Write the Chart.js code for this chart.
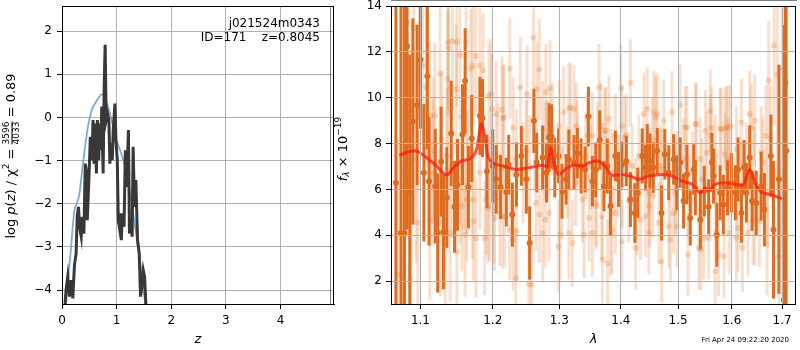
<!DOCTYPE html>
<html>
<head>
<meta charset="utf-8">
<script src="https://cdn.jsdelivr.net/npm/chart.js@4.4.1/dist/chart.umd.min.js"></script>
<style>
  body { margin: 0; background: #fff; }
  #wrap { position: relative; width: 800px; height: 350px; }
  canvas { position: absolute; top: 0; }
  #pz { left: 0; }
  #sp { left: 330px; }
</style>
</head>
<body>
<div id="wrap">
  <canvas id="pz" width="336" height="350"></canvas>
  <canvas id="sp" width="470" height="350"></canvas>
</div>
<script>
// ---- left panel: log p(z) ----
let zBlack = [0.035,0.074,0.105,0.136,0.167,0.198,0.228,0.259,0.278,0.302,0.321,0.352,0.370,0.401,0.426,0.444,0.463,0.494,0.519,0.549,0.568,0.586,0.611,0.630,0.648,0.673,0.691,0.710,0.728,0.753,0.772,0.790,0.809,0.833,0.858,0.877,0.895,0.920,0.938,0.969,0.988,1.012,1.031,1.049,1.068,1.086,1.105,1.136,1.160,1.185,1.216,1.235,1.259,1.284,1.302,1.327,1.352,1.383,1.414,1.438,1.463,1.488,1.512,1.550];
let logPz = [-4.7,-4.00,-3.69,-4.15,-3.77,-4.19,-3.42,-3.15,-2.30,-2.07,-2.53,-2.76,-2.30,-2.69,-1.07,-1.22,-2.38,-1.37,-0.45,-0.99,-0.06,-1.07,-0.14,-1.30,-0.06,-0.99,-0.14,-0.76,0.25,-1.30,0.71,1.68,-0.06,0.09,-0.06,-1.07,-0.60,-0.99,-0.29,0.32,-0.53,-0.99,-2.38,-2.53,-2.22,-2.84,-2.22,-2.53,-0.76,-1.61,-0.29,-2.69,-2.38,-2.76,-0.68,-2.07,-1.45,-2.84,-3.15,-4.15,-3.92,-3.54,-3.69,-4.7];
let zSmooth = [0.05,0.074,0.123,0.167,0.228,0.309,0.383,0.475,0.556,0.642,0.735,0.815,0.907,1.0,1.123,1.235,1.321,1.401,1.463,1.56];
let logPzSmooth = [-4.7,-4.32,-3.6,-3.0,-2.15,-1.84,-1.07,-0.22,0.21,0.40,0.54,0.36,-0.06,-0.53,-0.99,-1.68,-2.38,-3.07,-3.69,-4.7];
let zTicks = [0, 1, 2, 3, 4];
let pzTicks = [-4, -3, -2, -1, 0, 1, 2];

// ---- right panel: spectrum ----
let darkLam = [1.0680,1.0745,1.0790,1.0824,1.0860,1.0900,1.0956,1.1000,1.1046,1.1092,
  1.1115,1.1198,1.1231,1.1277,1.1309,1.1355,1.1415,1.1461,1.1502,1.1572,
  1.1608,1.1654,1.1700,1.1816,1.1853,1.1917,1.2000,1.2050,1.2114,1.2198,
  1.2233,1.2287,1.2347,1.2421,1.2495,1.2545,1.2609,1.2653,1.2743,1.2802,
  1.2842,1.2881,1.2931,1.2990,1.3043,1.3108,1.3152,1.3233,1.3287,1.3346,
  1.3411,1.3465,1.3530,1.3584,1.3649,1.3720,1.3774,1.3828,1.3909,1.3963,
  1.4017,1.4093,1.4163,1.4238,1.4290,1.4366,1.4424,1.4453,1.4500,1.4558,
  1.4628,1.4704,1.4762,1.4832,1.4919,1.4977,1.5037,1.5099,1.5160,1.5222,
  1.5284,1.5315,1.5407,1.5481,1.5562,1.5623,1.5654,1.5716,1.5778,1.5839,
  1.5920,1.5994,1.6071,1.6123,1.6188,1.6240,1.6285,1.6350,1.6396,1.6480,
  1.6577,1.6642,1.6772,1.6824,1.6935,1.7033,1.7066,1.7083];
let darkFlux = [6.29,4.10,4.10,12.24,5.88,8.96,9.68,11.65,6.73,10.94,
  6.35,6.14,4.10,7.21,4.14,5.65,8.44,5.24,6.20,8.39,
  10.73,6.10,8.22,9.21,9.11,6.79,7.02,6.44,6.10,5.88,
  7.08,4.90,6.65,7.46,6.44,3.66,8.99,7.17,7.39,6.73,
  8.26,8.31,6.95,7.46,5.92,6.44,7.31,7.17,7.58,7.02,
  6.87,9.18,6.36,6.85,8.15,6.14,7.02,5.27,7.46,6.44,
  7.09,7.24,5.56,4.97,5.85,7.46,6.95,7.75,7.24,6.95,
  7.68,4.97,7.53,6.73,7.31,6.29,7.17,5.49,6.65,4.75,
  6.87,6.07,4.68,5.92,5.24,7.17,6.58,4.02,5.85,5.34,
  6.07,6.29,5.85,6.87,4.97,6.95,5.85,7.39,5.49,5.41,
  6.14,5.12,7.46,4.24,6.44,1.17,10.65,7.68];
let darkErr = [12,12,12,8,6,4.5,3.5,3.0,3.0,3.2,
  2.8,2.5,2.6,2.4,2.5,2.2,2.3,2.0,2.0,2.2,
  2.3,1.8,1.9,1.7,1.7,1.6,1.6,1.5,1.4,1.5,
  1.3,1.4,1.4,1.3,1.5,1.6,1.4,1.3,1.4,1.3,
  1.5,1.4,1.3,1.2,1.2,1.1,1.3,1.2,1.1,1.2,
  1.0,1.3,1.1,1.2,1.3,1.1,1.2,1.3,1.1,1.2,
  1.0,1.1,1.2,1.3,1.1,1.2,1.0,1.1,1.2,1.1,
  1.0,1.2,1.1,1.2,1.1,1.2,1.1,1.2,1.3,1.2,
  1.1,1.2,1.3,1.1,1.2,1.3,1.2,1.4,1.2,1.3,
  1.2,1.3,1.2,1.4,1.3,1.2,1.3,1.4,1.3,1.4,
  1.5,1.6,1.8,3.0,5,12,12,12];

let lightLam = [1.0824,1.0912,1.0987,1.0700,1.0767,1.1032,1.1078,1.1124,1.1263,1.1373,
  1.1433,1.1493,1.1539,1.1622,1.1714,1.1756,1.1816,1.1862,1.1945,1.1991,
  1.2050,1.2149,1.0965,1.1124,1.1263,1.1332,1.1401,1.1493,1.1562,1.1631,
  1.1724,1.1761,1.1908,1.1954,1.2015,1.2099,1.2173,1.2248,1.2337,1.2535,
  1.2574,1.2604,1.2693,1.2792,1.2856,1.2891,1.3000,1.3070,1.3152,1.3233,
  1.3287,1.3449,1.3611,1.3666,1.3747,1.3801,1.3909,1.4017,1.4093,1.4163,
  1.4395,1.4570,1.4890,1.5037,1.5130,1.5315,1.5500,1.5593,1.5796,1.5870,
  1.5932,1.6188,1.6350,1.6448,1.6675,1.6727,1.6837,1.6902,1.7000,1.2743,
  1.2842,1.2990,1.3152,1.3395,1.3530,1.3693,1.3779,1.3855,1.4017,1.4250,
  1.4337,1.4482,1.4704,1.4861,1.4977,1.5179,1.5377,1.5469,1.5685,1.5852,
  1.6090,1.6318,1.6448,1.6694,1.6935,1.7033,1.2347,1.2495,1.2619,1.2792,
  1.3260,1.3368,1.3584,1.3855,1.4017,1.4250,1.4482,1.4715,1.4948,1.5191,
  1.5438,1.5685,1.5932,1.6188,1.6448,1.6707,1.1585,1.1355,1.1170,1.0943,
  1.2653,1.2505,1.2406,1.3179,1.3271,1.3530,1.3638,1.3736,1.4000,1.4064,1.4453,1.4541,1.4599,
  1.2643,1.2693,1.2782,1.3016,1.3206,1.3476,1.3595,1.3682,1.3828,1.3909,1.4134,1.4279,1.4424,1.4494,1.4552,
  1.2446,1.2545,1.2743,1.2817,1.3043,1.3125,1.3422,1.3503,1.3693,1.3801,1.3963,1.4192,1.4308,1.4482,
  1.4628,1.4744,1.5160,1.5333,1.5593,1.5623,1.5778,1.5901,1.5975,1.6383,1.6577,
  1.4657,1.4832,1.4919,1.5419,1.5562,1.5747,1.5950,1.6123,1.6207,1.6415,1.6545,
  1.4686,1.4977,1.5099,1.5253,1.5407,1.5531,1.5685,1.5870,1.6090,1.6285,1.6610,1.6772,
  1.1365,1.1378,1.1686,1.1484,1.1193,1.1977,1.2248,1.2297,1.2134,1.2164,
  1.1608,1.1885,1.1710,1.1931,1.2025,1.2139,1.2297,1.2347,1.0859,
  1.0789,1.0877,1.1170,1.1286,1.1424,1.1539,1.1640,1.1816,1.2075];
let lightFlux = [13.31,13.04,13.16,2.27,2.20,11.40,10.46,9.21,11.04,12.43,
  12.47,12.43,11.85,12.43,11.40,11.82,11.40,11.19,10.09,9.51,
  9.29,9.11,4.54,4.68,4.54,3.51,4.10,3.29,5.27,5.56,
  4.61,3.88,5.56,5.27,5.05,4.97,4.80,4.24,2.12,1.87,
  1.83,12.61,11.23,10.24,10.41,8.63,8.77,9.36,9.54,9.51,
  7.97,8.34,7.90,8.77,8.56,9.07,8.34,8.77,8.37,10.65,
  9.29,9.36,9.36,9.68,8.70,8.85,8.56,8.34,8.63,8.63,
  8.70,8.92,9.29,8.99,8.34,10.75,12.28,11.00,11.26,4.10,
  4.97,3.51,4.10,4.02,4.10,2.93,2.78,4.24,3.73,3.44,
  4.68,4.10,2.85,3.80,4.39,3.15,3.44,3.88,2.42,3.07,
  3.88,4.10,4.68,3.58,3.07,1.46,7.31,7.68,8.04,7.75,
  6.29,5.56,5.41,6.73,6.14,5.56,5.85,6.87,5.85,5.70,
  6.44,5.56,7.31,6.14,6.73,5.85,7.02,7.46,6.73,7.31,
  10.38,10.16,10.46,9.58,8.77,8.34,10.46,8.56,10.41,8.26,9.51,8.19,9.14,
  5.41,4.90,4.68,4.02,3.66,4.75,5.27,4.83,4.10,4.97,5.49,4.97,4.83,5.27,5.71,
  6.73,7.02,8.63,7.75,5.85,6.73,7.46,7.02,7.02,6.14,6.58,7.02,7.46,6.73,
  9.29,8.99,8.70,8.85,9.43,8.70,8.63,8.70,8.77,8.70,7.61,
  4.54,4.39,4.97,3.37,3.88,3.15,4.10,4.32,3.44,4.61,4.61,
  7.02,6.73,7.31,6.73,7.31,7.61,7.46,7.53,7.75,7.02,7.17,8.19,
  10.82,12.17,11.26,10.38,9.21,10.16,11.26,8.70,9.48,9.14,
  4.02,3.88,5.56,5.19,4.75,4.83,3.80,4.17,2.12,
  6.73,7.17,7.68,8.19,6.87,6.44,6.80,6.73,7.46];
let lightErr = [5,4.5,4,6,5,3.5,3.5,3.2,3,3,
  3,2.8,2.8,2.8,2.6,2.6,2.5,2.5,2.4,2.4,
  2.3,2.3,4,3.5,3.2,3,3,2.8,2.8,2.7,
  2.6,2.6,2.4,2.4,2.3,2.3,2.2,2.2,2.2,2.2,
  2.1,2.3,2.2,2.1,2.1,2.0,2.0,2.0,2.0,1.9,
  1.9,1.9,1.9,1.9,1.9,1.9,1.8,1.8,1.8,1.9,
  1.8,1.8,1.8,1.8,1.8,1.8,1.8,1.8,1.8,1.8,
  1.8,1.9,1.9,2.0,2.2,2.6,3.5,5,8,2.1,
  2.1,2.0,2.0,1.9,1.9,1.9,1.9,1.9,1.8,1.8,
  1.8,1.8,1.8,1.8,1.8,1.8,1.8,1.8,1.8,1.8,
  1.9,1.9,2.0,2.2,4,8,2.2,2.2,2.1,2.1,
  1.9,1.9,1.9,1.9,1.8,1.8,1.8,1.8,1.8,1.8,
  1.8,1.8,1.8,1.9,2.0,2.2,2.8,3.0,3.2,4.5,
  2.1,2.1,2.2,1.9,1.9,1.9,1.9,1.9,1.9,1.8,1.8,1.8,1.8,
  2.1,2.1,2.1,2.0,1.9,1.9,1.9,1.9,1.9,1.8,1.8,1.8,1.8,1.8,1.8,
  2.2,2.2,2.1,2.1,2.0,2.0,1.9,1.9,1.9,1.9,1.8,1.8,1.8,1.8,
  1.8,1.8,1.8,1.8,1.8,1.8,1.8,1.8,1.8,1.9,2.0,
  1.8,1.8,1.8,1.8,1.8,1.8,1.8,1.9,1.9,1.9,2.0,
  1.8,1.8,1.8,1.8,1.8,1.8,1.8,1.8,1.9,1.9,2.0,2.3,
  3.0,3.0,2.6,2.8,3.2,2.4,2.2,2.2,2.3,2.3,
  2.7,2.5,2.6,2.4,2.3,2.3,2.2,2.2,5,
  5,4.5,3.2,3.0,3.0,2.8,2.7,2.5,2.3];

let modelLam = [1.0723,1.0811,1.0921,1.0987,1.1078,1.1217,1.1355,1.1447,1.1562,1.1677,1.1770,1.1839,1.1871,1.1931,1.2000,1.2149,1.2347,1.2545,1.2743,1.2817,1.2866,1.2916,1.2990,1.3097,1.3233,1.3368,1.3476,1.3611,1.3747,1.3855,1.4017,1.4163,1.4308,1.4482,1.4715,1.4890,1.5068,1.5253,1.5407,1.5500,1.5562,1.5685,1.5870,1.6058,1.6220,1.6350,1.6480,1.6610,1.6772,1.6935,1.7033];
let modelFlux = [7.49,7.61,7.68,7.61,7.39,7.02,6.63,6.95,7.24,7.34,7.75,8.85,8.56,7.46,7.17,7.02,6.87,6.95,7.05,6.98,7.82,7.17,6.65,6.87,7.06,7.02,7.17,7.24,6.98,6.61,6.65,6.58,6.44,6.58,6.65,6.58,6.36,6.22,5.85,6.07,5.95,6.22,6.29,6.22,6.17,6.87,6.14,5.85,5.78,5.63,5.59];
let lamTicks = [1.1, 1.2, 1.3, 1.4, 1.5, 1.6, 1.7];
let fluxTicks = [2, 4, 6, 8, 10, 12, 14];

Chart.defaults.font.family = "'DejaVu Sans', sans-serif";
Chart.defaults.font.size = 12;
Chart.defaults.color = "#000";

let pts = (xs, ys) => xs.map((x, i) => ({ x: x, y: ys[i] }));
let minus = (v) => String(v).replace("-", "\u2212");

// box around the plot area
let frame = {
  id: "frame",
  afterDraw(chart) {
    let a = chart.chartArea;
    let ctx = chart.ctx;
    ctx.save();
    ctx.strokeStyle = "#000";
    ctx.lineWidth = 1;
    ctx.strokeRect(Math.round(a.left) + 0.5, Math.round(a.top) + 0.5,
      Math.round(a.right - a.left) - 1, Math.round(a.bottom - a.top));
    ctx.restore();
  },
};

// vertical error bars, drawn just before each dataset's points
let errorBars = {
  id: "errorBars",
  beforeDatasetDraw(chart, args) {
    let ds = chart.data.datasets[args.index];
    if (!ds.errs) return;
    let a = chart.chartArea;
    let ctx = chart.ctx;
    let xs = chart.scales.x, ys = chart.scales.y;
    ctx.save();
    ctx.beginPath();
    ctx.rect(a.left, a.top, a.right - a.left, a.bottom - a.top);
    ctx.clip();
    ctx.strokeStyle = ds.barColor;
    ctx.lineWidth = 3;
    ds.data.forEach((p, i) => {
      let px = xs.getPixelForValue(p.x);
      ctx.beginPath();
      ctx.moveTo(px, ys.getPixelForValue(p.y - ds.errs[i]));
      ctx.lineTo(px, ys.getPixelForValue(p.y + ds.errs[i]));
      ctx.stroke();
    });
    ctx.restore();
  },
};

// draws a list of [text, font, dy] pieces along a rotated line, centred on (cx, cy)
function rotatedText(ctx, cx, cy, pieces) {
  ctx.save();
  ctx.translate(cx, cy);
  ctx.rotate(-Math.PI / 2);
  ctx.textBaseline = "middle";
  ctx.textAlign = "left";
  ctx.fillStyle = "#000";
  let total = 0;
  pieces.forEach((p) => { ctx.font = p[1]; total += ctx.measureText(p[0]).width; });
  let x = -total / 2;
  pieces.forEach((p) => {
    ctx.font = p[1];
    if (p[3]) {
      // stacked fraction
      let w = Math.max(ctx.measureText(p[0]).width, ctx.measureText(p[3]).width);
      ctx.fillText(p[0], x, -5);
      ctx.fillText(p[3], x, 5);
      ctx.fillRect(x, -0.5, w, 1);
      x += w;
    } else {
      ctx.fillText(p[0], x, p[2] || 0);
      x += ctx.measureText(p[0]).width;
    }
  });
  ctx.restore();
}

let pzLabels = {
  id: "pzLabels",
  afterDraw(chart) {
    let ctx = chart.ctx;
    ctx.save();
    ctx.fillStyle = "#000";
    ctx.font = "12px 'DejaVu Sans'";
    ctx.textAlign = "right";
    ctx.textBaseline = "middle";
    ctx.fillText("j021524m0343", 320, 24);
    ctx.fillText("ID=171    z=0.8045", 320, 38);
    ctx.restore();
    rotatedText(ctx, 12, 156, [
      ["log ", "13px 'DejaVu Sans'"],
      ["p", "italic 13px 'DejaVu Sans'"],
      ["(", "13px 'DejaVu Sans'"],
      ["z", "italic 13px 'DejaVu Sans'"],
      [") / \u03C7", "13px 'DejaVu Sans'"],
      ["2", "9px 'DejaVu Sans'", -5],
      [" = ", "13px 'DejaVu Sans'"],
      ["3596", "9px 'DejaVu Sans'", 0, "4033"],
      [" = 0.89", "13px 'DejaVu Sans'"],
    ]);
  },
};

let spLabels = {
  id: "spLabels",
  afterDraw(chart) {
    let ctx = chart.ctx;
    rotatedText(ctx, 14, 149, [
      ["f", "italic 13px 'DejaVu Sans'"],
      ["\u03BB", "italic 9px 'DejaVu Sans'", 3],
      [" \u00D7 10", "13px 'DejaVu Sans'"],
      ["\u221219", "9px 'DejaVu Sans'", -5],
    ]);
    ctx.save();
    ctx.fillStyle = "#000";
    ctx.font = "7px 'DejaVu Sans'";
    ctx.textAlign = "right";
    ctx.textBaseline = "middle";
    ctx.fillText("Fri Apr 24 09:22:20 2020", 459, 340);
    ctx.restore();
  },
};

let axisGrid = { color: "#b0b0b0", lineWidth: 1, tickColor: "#000", tickLength: 5 };
// keep Chart.js from reserving room for half tick labels at the plot edges
let noPadV = (w) => (s) => { s.width = w; s.paddingTop = 0; s.paddingBottom = 0; };
let noPadH = (h) => (s) => { s.height = h; s.paddingLeft = 0; s.paddingRight = 0; };

new Chart(document.getElementById("pz"), {
  type: "scatter",
  data: {
    datasets: [
      {
        data: pts(zBlack, logPz),
        showLine: true,
        borderColor: "#383838",
        borderWidth: 3,
        pointRadius: 0,
      },
      {
        data: pts(zSmooth, logPzSmooth),
        showLine: true,
        borderColor: "rgba(110,165,205,0.9)",
        borderWidth: 1.8,
        pointRadius: 0,
        tension: 0.3,
      },
    ],
  },
  options: {
    responsive: false,
    animation: false,
    layout: { padding: { top: 6, right: 2, left: 0, bottom: 0 } },
    plugins: { legend: { display: false }, tooltip: { enabled: false } },
    scales: {
      x: {
        type: "linear",
        min: 0,
        max: 4.98,
        afterBuildTicks: (s) => { s.ticks = zTicks.map((v) => ({ value: v })); },
        afterFit: noPadH(46),
        grid: axisGrid,
        border: { color: "#000" },
        ticks: { padding: 5, maxRotation: 0, callback: (v) => minus(v) },
        title: { display: true, text: "z", font: { style: "italic", size: 13 }, padding: { top: 0, bottom: 3 } },
      },
      y: {
        min: -4.32,
        max: 2.58,
        afterBuildTicks: (s) => { s.ticks = pzTicks.map((v) => ({ value: v })); },
        afterFit: noPadV(62),
        grid: axisGrid,
        border: { color: "#000" },
        ticks: { padding: 5, callback: (v) => minus(v) },
      },
    },
  },
  plugins: [frame, pzLabels],
});

new Chart(document.getElementById("sp"), {
  type: "scatter",
  data: {
    datasets: [
      {
        data: pts(modelLam, modelFlux),
        showLine: true,
        borderColor: "rgba(255,25,10,0.75)",
        borderWidth: 3,
        pointRadius: 0,
        cubicInterpolationMode: "monotone",
      },
      {
        data: pts(darkLam, darkFlux),
        errs: darkErr,
        barColor: "rgb(222,108,32)",
        backgroundColor: "rgb(222,108,32)",
        borderWidth: 0,
        pointRadius: 3,
      },
      {
        data: pts(lightLam, lightFlux),
        errs: lightErr,
        barColor: "rgba(232,130,60,0.25)",
        backgroundColor: "rgba(232,130,60,0.3)",
        borderWidth: 0,
        pointRadius: 3,
      },
    ],
  },
  options: {
    responsive: false,
    animation: false,
    layout: { padding: { top: 6, right: 2, left: 0, bottom: 0 } },
    plugins: { legend: { display: false }, tooltip: { enabled: false } },
    scales: {
      x: {
        type: "logarithmic",
        min: 1.0617,
        max: 1.7287,
        afterBuildTicks: (s) => { s.ticks = lamTicks.map((v) => ({ value: v })); },
        afterFit: noPadH(46),
        grid: Object.assign({ z: 1 }, axisGrid),
        border: { color: "#000" },
        ticks: { padding: 5, maxRotation: 0, autoSkip: false, callback: (v) => Number(v).toFixed(1) },
        title: { display: true, text: "\u03BB", font: { style: "italic", size: 13 }, padding: { top: 0, bottom: 3 } },
      },
      y: {
        min: 1,
        max: 14,
        afterBuildTicks: (s) => { s.ticks = fluxTicks.map((v) => ({ value: v })); },
        afterFit: noPadV(61),
        grid: Object.assign({ z: 1 }, axisGrid),
        border: { color: "#000" },
        ticks: { padding: 4 },
      },
    },
  },
  plugins: [frame, errorBars, spLabels],
});
</script>
</body>
</html>
